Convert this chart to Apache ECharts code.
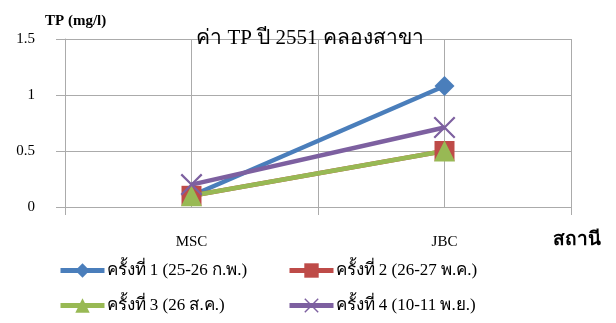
<!DOCTYPE html>
<html>
<head>
<meta charset="utf-8">
<script src="https://cdn.jsdelivr.net/npm/echarts@6/dist/echarts.min.js"></script>
<style>
  html, body { margin: 0; padding: 0; background: #fff; }
  #chart { width: 616px; height: 323px; }
</style>
</head>
<body>
<div id="chart"></div>
<script>
// Stations along the x axis
const stations = ['MSC', 'JBC'];

// TP (mg/l) per sampling round
const round1 = [0.10, 1.08];
const round2 = [0.10, 0.50];
const round3 = [0.10, 0.50];
const round4 = [0.20, 0.71];

const seriesNames = [
  'ครั้งที่ 1 (25-26 ก.พ.)',
  'ครั้งที่ 2 (26-27 พ.ค.)',
  'ครั้งที่ 3 (26 ส.ค.)',
  'ครั้งที่ 4 (10-11 พ.ย.)'
];

const yTicks = [0, 0.5, 1, 1.5];

const FONT = '"Liberation Serif", "DejaVu Serif", serif';
const GRID_COLOR = '#ababab';
const CROSS = 'path://M0,0.7L0.7,0L5,4.3L9.3,0L10,0.7L5.7,5L10,9.3L9.3,10L5,5.7L0.7,10L0,9.3L4.3,5Z';

const chart = echarts.init(document.getElementById('chart'), null, { renderer: 'canvas' });

function legendAt(name, left, top) {
  return {
    data: [name],
    left: left,
    top: top,
    itemWidth: 44,
    itemHeight: 18,
    itemGap: 0,
    padding: 0,
    selectedMode: false,
    lineStyle: { width: 5 },
    textStyle: { fontFamily: FONT, fontSize: 17, color: '#000', padding: [0, 0, 0, -3] }
  };
}

const lineSeries = [
  { name: seriesNames[0], data: round1, color: '#4a7ebb', symbol: 'diamond', symbolSize: 20 },
  { name: seriesNames[1], data: round2, color: '#be4b48', symbol: 'rect', symbolSize: 20 },
  { name: seriesNames[2], data: round3, color: '#98b954', symbol: 'triangle', symbolSize: 21 },
  { name: seriesNames[3], data: round4, color: '#7d60a0', symbol: CROSS, symbolSize: 22 }
].map(s => ({
  type: 'line',
  name: s.name,
  xAxisIndex: 0,
  data: s.data,
  symbol: s.symbol,
  symbolSize: s.symbolSize,
  showAllSymbol: true,
  lineStyle: { color: s.color, width: 4.5 },
  itemStyle: { color: s.color },
  emphasis: { disabled: true },
  animation: false
}));

chart.setOption({
  animation: false,
  backgroundColor: '#fff',
  title: {
    text: 'ค่า TP ปี 2551 คลองสาขา',
    left: 305,
    textAlign: 'center',
    top: 23,
    textStyle: { fontFamily: FONT, fontSize: 21, fontWeight: 'normal', color: '#000' }
  },
  legend: [
    legendAt(seriesNames[0], 58, 262),
    legendAt(seriesNames[1], 287, 262),
    legendAt(seriesNames[2], 58, 297),
    legendAt(seriesNames[3], 287, 297)
  ],
  grid: { left: 65, right: 45, top: 39, bottom: 116, containLabel: false },
  xAxis: [
    {
      type: 'category',
      data: stations,
      boundaryGap: true,
      name: 'สถานี',
      nameLocation: 'end',
      nameGap: 0,
      nameTextStyle: {
        fontFamily: FONT, fontSize: 19, fontWeight: 'bold', color: '#000',
        align: 'left', verticalAlign: 'top', padding: [24, 0, 0, -18]
      },
      axisLine: { lineStyle: { color: GRID_COLOR } },
      axisTick: { show: true, length: 8, lineStyle: { color: GRID_COLOR } },
      axisLabel: { fontFamily: FONT, fontSize: 15, color: '#000', margin: 28 },
      splitLine: { show: false }
    },
    {
      // finer vertical grid through band centres and edges
      type: 'value',
      min: 0,
      max: 4,
      interval: 1,
      position: 'bottom',
      axisLine: { show: false },
      axisTick: { show: false },
      axisLabel: { show: false },
      splitLine: { show: true, lineStyle: { color: GRID_COLOR, width: 1 } }
    }
  ],
  yAxis: {
    type: 'value',
    min: yTicks[0],
    max: yTicks[yTicks.length - 1],
    interval: 0.5,
    name: 'TP (mg/l)',
    nameLocation: 'end',
    nameGap: 10,
    nameTextStyle: {
      fontFamily: FONT, fontSize: 15, fontWeight: 'bold', color: '#000',
      align: 'left', padding: [0, 0, 0, -20]
    },
    axisLine: { show: true, lineStyle: { color: GRID_COLOR } },
    axisTick: { show: true, length: 9, lineStyle: { color: GRID_COLOR } },
    axisLabel: {
      fontFamily: FONT, fontSize: 15, color: '#000', margin: 30,
      formatter: v => (yTicks.indexOf(v) >= 0 ? String(v) : '')
    },
    splitLine: { show: true, lineStyle: { color: GRID_COLOR, width: 1 } }
  },
  series: lineSeries
});
</script>
</body>
</html>
